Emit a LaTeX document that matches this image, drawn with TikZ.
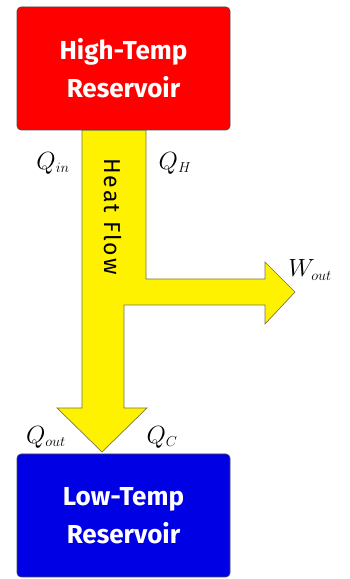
\documentclass[tikz,border=0pt]{standalone}
\usepackage{fontspec}
\setsansfont{Fira Sans}
\begin{document}
\begin{tikzpicture}[x=1pt, y=1pt, >=stealth,
  reservoir/.style={rectangle, rounded corners=4pt, draw=black!70, line width=0.6pt,
    minimum width=213pt, minimum height=123pt, text=white, align=center,
    font=\sffamily\bfseries\fontsize{26}{38}\selectfont},
  qlabel/.style={font=\fontsize{29}{30}\selectfont}]
  \useasboundingbox (0,0) rectangle (350,579);

  % heat flow arrow (T-shaped)
  \filldraw[fill=yellow, draw=black!60!yellow, line width=0.7pt]
    (82,449) -- (146,449) -- (146,300) -- (265,300) -- (265,317) -- (295,287)
    -- (265,255) -- (265,274) -- (124,274) -- (124,171) -- (147,171)
    -- (102,127) -- (57,171) -- (82,171) -- cycle;
  \node (flow) at (113,362.5) [rotate=-90,
    font=\sffamily\fontsize{23}{24}\selectfont\addfontfeatures{LetterSpace=9}] {Heat Flow};

  % reservoirs
  \node (hot) at (123.5,510.5) [reservoir, fill=red] {High-Temp\\Reservoir};
  \node (cold) at (123.5,63.5) [reservoir, fill=blue!90!black] {Low-Temp\\Reservoir};

  % labels
  \node (qin) at (53,416) [qlabel] {$Q_{\scriptscriptstyle in}$};
  \node (qh) at (175,416) [qlabel] {$Q_{\scriptscriptstyle H}$};
  \node (wout) at (310,309) [qlabel] {$W_{\scriptscriptstyle out}$};
  \node (qout) at (46,142) [qlabel] {$Q_{\scriptscriptstyle out}$};
  \node (qc) at (162,142) [qlabel] {$Q_{\scriptscriptstyle C}$};
\end{tikzpicture}
\end{document}
